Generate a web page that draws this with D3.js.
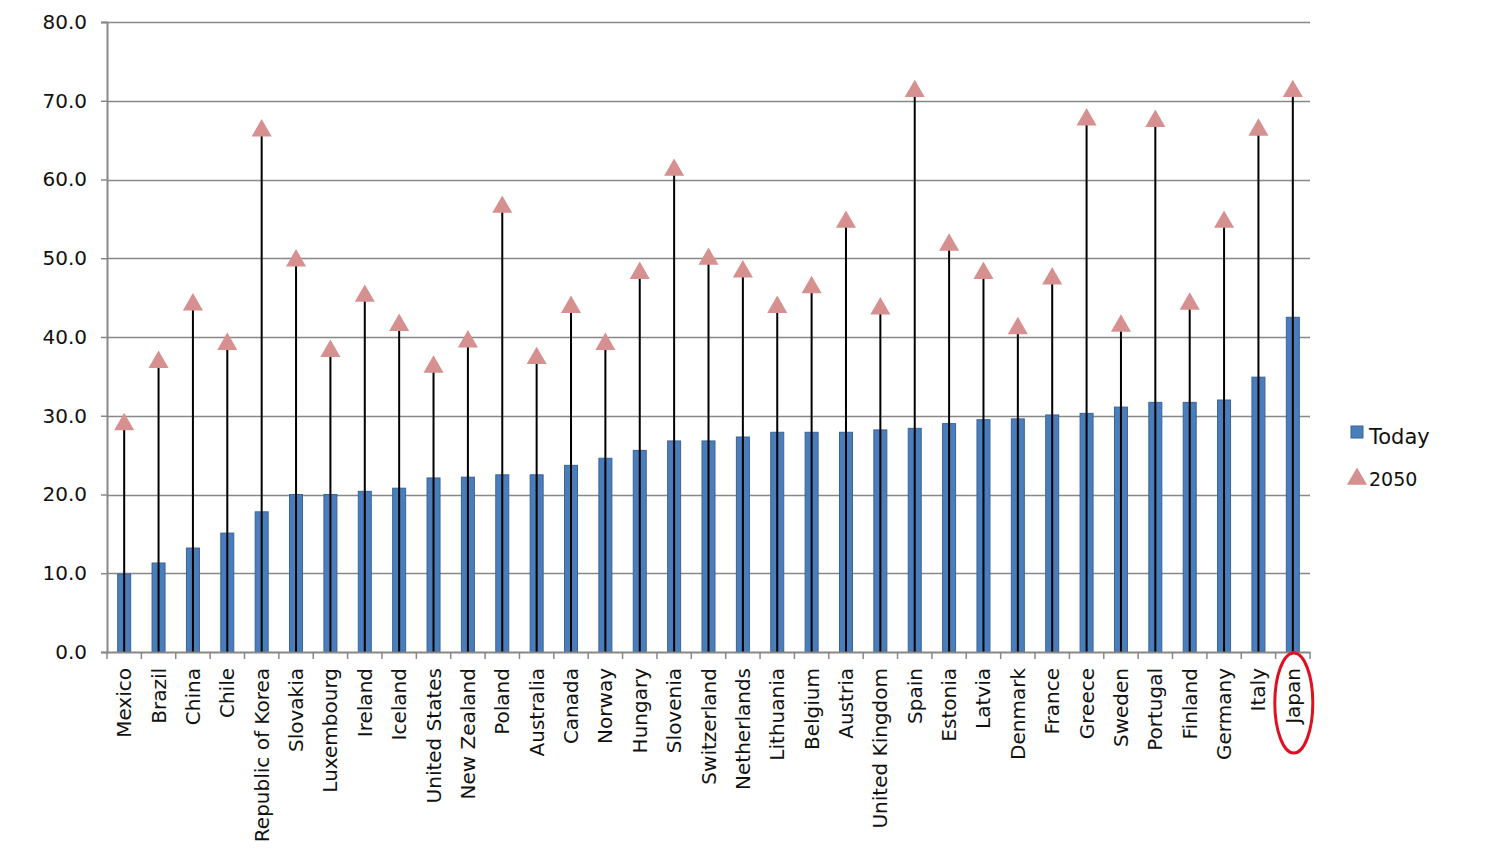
<!DOCTYPE html>
<html>
<head>
<meta charset="utf-8">
<script src="https://cdn.jsdelivr.net/npm/d3@7"></script>
<style>
  body { margin: 0; background: #fff; }
  svg { display: block; }
</style>
</head>
<body>
<div class="charts-div"></div>
<script>
const countries = ["Mexico", "Brazil", "China", "Chile", "Republic of Korea", "Slovakia", "Luxembourg",
    "Ireland", "Iceland", "United States", "New Zealand", "Poland", "Australia", "Canada", "Norway",
    "Hungary", "Slovenia", "Switzerland", "Netherlands", "Lithuania", "Belgium", "Austria",
    "United Kingdom", "Spain", "Estonia", "Latvia", "Denmark", "France", "Greece", "Sweden",
    "Portugal", "Finland", "Germany", "Italy", "Japan"];

const today = [9.9, 11.3, 13.2, 15.1, 17.8, 20.0, 20.0, 20.4, 20.8, 22.1, 22.2, 22.5, 22.5, 23.7, 24.6,
    25.6, 26.8, 26.8, 27.3, 27.9, 27.9, 27.9, 28.2, 28.4, 29.0, 29.5, 29.6, 30.1, 30.3, 31.1,
    31.7, 31.7, 32.0, 34.9, 42.5];

const year2050 = [28.9, 36.8, 44.1, 39.1, 66.2, 49.7, 38.2, 45.2, 41.5, 36.2, 39.4, 56.5, 37.3, 43.8, 39.1,
    48.1, 61.2, 49.9, 48.3, 43.8, 46.3, 54.6, 43.6, 71.2, 51.7, 48.1, 41.1, 47.4, 67.6, 41.4,
    67.4, 44.2, 54.6, 66.3, 71.2];

const yTicks = [0, 10, 20, 30, 40, 50, 60, 70, 80];
const seriesNames = ["Today", "2050"];
const highlight = "Japan";

const chartGeneration = () => {
    const width = 1500, height = 866;
    const margin = { top: 22, right: 190, bottom: 214, left: 107 };
    const barBlue = "#4a7ebb", barEdge = "#3a6398", triPink = "#d6908f";
    const font = "'DejaVu Sans', Verdana, sans-serif";

    const svg = d3.select(".charts-div").append("svg")
        .attr("width", width)
        .attr("height", height);

    const x = d3.scaleBand()
        .domain(countries)
        .range([margin.left, width - margin.right]);

    const y = d3.scaleLinear()
        .domain([0, 80])
        .range([height - margin.bottom, margin.top]);

    const rows = countries.map((c, i) => ({ name: c, today: today[i], future: year2050[i] }));

    // gridlines
    svg.append("g")
        .selectAll("line")
        .data(yTicks.slice(1))
        .join("line")
        .attr("x1", margin.left)
        .attr("x2", width - margin.right)
        .attr("y1", (d) => Math.round(y(d)) + 0.5)
        .attr("y2", (d) => Math.round(y(d)) + 0.5)
        .attr("stroke", "#888")
        .attr("stroke-width", 1.3);

    // y axis
    const yAxis = svg.append("g")
        .attr("transform", `translate(${margin.left},0)`)
        .call(d3.axisLeft(y).tickValues(yTicks).tickFormat(d3.format(".1f")).tickSize(6).tickPadding(14));
    yAxis.select(".domain").attr("stroke", "#888").attr("stroke-width", 2);
    yAxis.selectAll(".tick line").attr("stroke", "#888").attr("stroke-width", 1.5);
    yAxis.selectAll("text")
        .attr("font-family", font)
        .attr("font-size", 20)
        .attr("fill", "#111");

    // bars (today)
    const bw = 13;
    svg.append("g")
        .selectAll("rect")
        .data(rows)
        .join("rect")
        .attr("x", (d) => x(d.name) + x.bandwidth() / 2 - bw / 2)
        .attr("y", (d) => y(d.today))
        .attr("width", bw)
        .attr("height", (d) => y(0) - y(d.today))
        .attr("fill", barBlue)
        .attr("stroke", barEdge)
        .attr("stroke-width", 1);

    // high-low lines
    svg.append("g")
        .selectAll("line")
        .data(rows)
        .join("line")
        .attr("x1", (d) => x(d.name) + x.bandwidth() / 2)
        .attr("x2", (d) => x(d.name) + x.bandwidth() / 2)
        .attr("y1", y(0))
        .attr("y2", (d) => y(d.future))
        .attr("stroke", "#000")
        .attr("stroke-width", 2);

    // triangles (2050)
    const tri = d3.symbol().type(d3.symbolTriangle).size(175);
    svg.append("g")
        .selectAll("path")
        .data(rows)
        .join("path")
        .attr("d", tri)
        .attr("transform", (d) => `translate(${x(d.name) + x.bandwidth() / 2},${y(d.future)})`)
        .attr("fill", triPink);

    // x axis
    const xAxis = svg.append("g")
        .attr("transform", `translate(0,${y(0)})`)
        .call(d3.axisBottom(x).tickSize(0).tickPadding(0));
    xAxis.select(".domain").attr("stroke", "#888").attr("stroke-width", 2);
    xAxis.selectAll("text")
        .attr("font-family", font)
        .attr("font-size", 20)
        .attr("fill", "#111")
        .attr("text-anchor", "end")
        .attr("dy", "0.35em")
        .attr("transform", "translate(0,16) rotate(-90)");

    // tick marks at band boundaries
    svg.append("g")
        .selectAll("line")
        .data(d3.range(countries.length + 1))
        .join("line")
        .attr("x1", (i) => margin.left + i * x.step())
        .attr("x2", (i) => margin.left + i * x.step())
        .attr("y1", y(0))
        .attr("y2", y(0) + 7)
        .attr("stroke", "#888")
        .attr("stroke-width", 1.5);

    // red ellipse round the highlighted label
    svg.append("ellipse")
        .attr("cx", x(highlight) + x.bandwidth() / 2 + 1)
        .attr("cy", y(0) + 51)
        .attr("rx", 19)
        .attr("ry", 50)
        .attr("fill", "none")
        .attr("stroke", "#e01020")
        .attr("stroke-width", 3);

    // legend
    const legend = svg.append("g").attr("transform", "translate(1351,0)");
    legend.append("rect")
        .attr("x", 0).attr("y", 426)
        .attr("width", 12).attr("height", 12)
        .attr("fill", barBlue).attr("stroke", barEdge);
    legend.append("text")
        .attr("x", 18).attr("y", 444)
        .attr("font-family", font).attr("font-size", 21).attr("fill", "#111")
        .text(seriesNames[0]);
    legend.append("path")
        .attr("d", tri)
        .attr("transform", "translate(6,479)")
        .attr("fill", triPink);
    legend.append("text")
        .attr("x", 18).attr("y", 486)
        .attr("font-family", font).attr("font-size", 19).attr("fill", "#111")
        .text(seriesNames[1]);
};

chartGeneration();
</script>
</body>
</html>
